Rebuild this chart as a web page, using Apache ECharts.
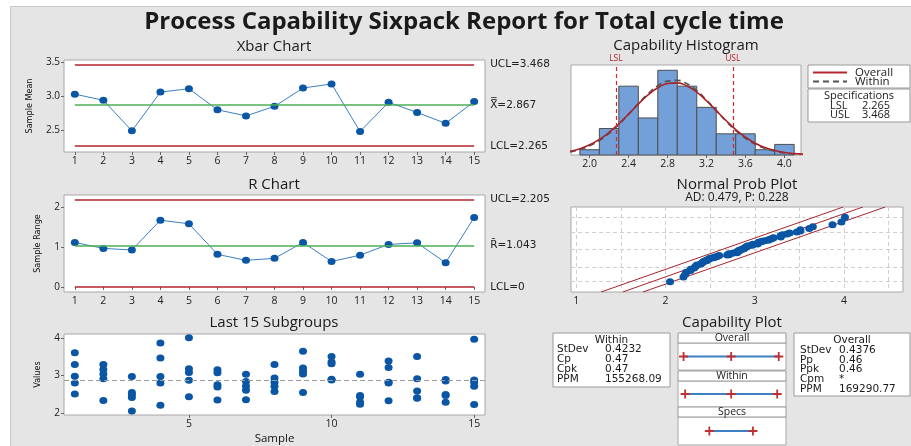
<!DOCTYPE html>
<html>
<head>
<meta charset="utf-8">
<script src="https://cdn.jsdelivr.net/npm/echarts@6/dist/echarts.min.js"></script>
<style>
  html, body { margin: 0; padding: 0; background: #fff; }
  #chart { width: 911px; height: 446px; }
</style>
</head>
<body>
<div id="chart"></div>
<script>
// --- data ---
const samples = [1, 2, 3, 4, 5, 6, 7, 8, 9, 10, 11, 12, 13, 14, 15];
const xbarValues = [3.03, 2.94, 2.49, 3.06, 3.11, 2.80, 2.71, 2.85, 3.12, 3.18, 2.48, 2.91, 2.76, 2.60, 2.92];
const xbarLimits = [3.468, 2.867, 2.265];
const rangeValues = [1.12, 0.97, 0.93, 1.68, 1.59, 0.82, 0.67, 0.72, 1.12, 0.64, 0.80, 1.07, 1.11, 0.61, 1.75];
const rangeLimits = [2.205, 1.043, 0];
const subgroupValues = [
  [3.61, 3.29, 2.98, 2.80, 2.50],
  [3.29, 3.16, 3.04, 2.91, 2.33],
  [2.97, 2.54, 2.48, 2.41, 2.05],
  [3.87, 3.47, 2.97, 2.80, 2.20],
  [4.01, 3.18, 3.08, 2.87, 2.43],
  [3.15, 3.07, 2.75, 2.69, 2.34],
  [3.03, 2.84, 2.71, 2.60, 2.35],
  [3.29, 2.93, 2.82, 2.71, 2.57],
  [3.65, 3.20, 3.11, 3.04, 2.54],
  [3.51, 3.36, 3.31, 2.90, 2.88],
  [3.03, 2.46, 2.42, 2.28, 2.23],
  [3.39, 3.21, 2.82, 2.80, 2.32],
  [3.51, 2.91, 2.58, 2.40, 2.39],
  [2.89, 2.85, 2.49, 2.46, 2.28],
  [3.97, 2.88, 2.82, 2.71, 2.22]
];
const histCenters = [2.0, 2.2, 2.4, 2.6, 2.8, 3.0, 3.2, 3.4, 3.6, 3.8, 4.0];
const histCounts = [1, 5, 13, 7, 16, 13, 9, 4, 4, 1, 2];
const histTicks = [2.0, 2.4, 2.8, 3.2, 3.6, 4.0];
const curveX = [1.8, 1.9, 2.0, 2.1, 2.2, 2.3, 2.4, 2.5, 2.6, 2.7, 2.8, 2.9, 3.0, 3.1, 3.2, 3.3, 3.4, 3.5, 3.6, 3.7, 3.8, 3.9, 4.0, 4.1, 4.2];
const overallCurve = [0.70, 1.19, 1.92, 2.94, 4.28, 5.90, 7.73, 9.62, 11.35, 12.71, 13.51, 13.63, 13.05, 11.87, 10.24, 8.38, 6.51, 4.80, 3.36, 2.23, 1.41, 0.84, 0.48, 0.26, 0.13];
const withinCurve = [0.59, 1.04, 1.73, 2.74, 4.08, 5.76, 7.69, 9.71, 11.59, 13.08, 13.96, 14.10, 13.46, 12.15, 10.37, 8.38, 6.40, 4.62, 3.15, 2.04, 1.24, 0.72, 0.39, 0.20, 0.10];
const specLimits = [2.265, 3.468];
const probLineZ = [-3.1, 3.1];
const probLowerX = [1.276, 3.99];
const probFitX = [1.52, 4.21];
const probUpperX = [1.746, 4.46];
const probGridX = [1, 1.5, 2, 2.5, 3, 3.5, 4, 4.5];
const probGridZ = [-2.326, -1.2816, 0, 1.2816, 2.326];
const capOverall = [1.554, 2.867, 4.180];
const capWithin = [1.597, 2.867, 4.137];
const capSpecs = [2.265, 3.468];
const withinStats = [['StDev', '0.4232'], ['Cp', '0.47'], ['Cpk', '0.47'], ['PPM', '155268.09']];
const overallStats = [['StDev', '0.4376'], ['Pp', '0.46'], ['Ppk', '0.46'], ['Cpm', '*'], ['PPM', '169290.77']];

const font = "'Open Sans', sans-serif";
const boxFont = "'DejaVu Sans', sans-serif";
const dotBlue = '#0b56a4';
const lineBlue = '#3c7fc2';
const red = '#b3262d';
const green = '#4cae55';

// normal scores for the probability plot
function invNorm(p) {
  const a = [-3.969683028665376e+01, 2.209460984245205e+02, -2.759285104469687e+02, 1.383577518672690e+02, -3.066479806614716e+01, 2.506628277459239e+00];
  const b = [-5.447609879822406e+01, 1.615858368580409e+02, -1.556989798598866e+02, 6.680131188771972e+01, -1.328068155288572e+01];
  const c = [-7.784894002430293e-03, -3.223964580411365e-01, -2.400758277161838e+00, -2.549732539343734e+00, 4.374664141464968e+00, 2.938163982698783e+00];
  const d = [7.784695709041462e-03, 3.224671290700398e-01, 2.445134137142996e+00, 3.754408661907416e+00];
  const pl = 0.02425;
  if (p < pl) {
    const q = Math.sqrt(-2 * Math.log(p));
    return (((((c[0] * q + c[1]) * q + c[2]) * q + c[3]) * q + c[4]) * q + c[5]) / ((((d[0] * q + d[1]) * q + d[2]) * q + d[3]) * q + 1);
  }
  if (p > 1 - pl) {
    const q = Math.sqrt(-2 * Math.log(1 - p));
    return -(((((c[0] * q + c[1]) * q + c[2]) * q + c[3]) * q + c[4]) * q + c[5]) / ((((d[0] * q + d[1]) * q + d[2]) * q + d[3]) * q + 1);
  }
  const q = p - 0.5, r = q * q;
  return (((((a[0] * r + a[1]) * r + a[2]) * r + a[3]) * r + a[4]) * r + a[5]) * q / (((((b[0] * r + b[1]) * r + b[2]) * r + b[3]) * r + b[4]) * r + 1);
}

const allValues = subgroupValues.flat().slice().sort((a, b) => a - b);
const probPoints = allValues.map((v, i) => [v, invNorm((i + 1 - 0.3) / (allValues.length + 0.4))]);
const subgroupPoints = [];
subgroupValues.forEach((g, i) => g.forEach(v => subgroupPoints.push([samples[i], v])));

// --- layout helpers ---
const gridBase = { show: true, backgroundColor: '#fff', borderColor: '#a8a8a8', borderWidth: 1, containLabel: false };

function xAxisOf(gridIndex, min, max, labels, extra) {
  return Object.assign({
    type: 'value', gridIndex, min, max,
    axisLine: { show: false },
    axisTick: { show: true, customValues: labels, length: 3, lineStyle: { color: '#666' } },
    axisLabel: { customValues: labels, fontSize: 10.5, color: '#222', margin: 4, fontFamily: font },
    splitLine: { show: false }
  }, extra || {});
}
function yAxisOf(gridIndex, min, max, labels, digits, extra) {
  return Object.assign({
    type: 'value', gridIndex, min, max,
    axisLine: { show: false },
    axisTick: { show: true, customValues: labels, length: 3, lineStyle: { color: '#666' } },
    axisLabel: { customValues: labels, fontSize: 10, color: '#222', margin: 4, fontFamily: font,
      formatter: v => Number(v).toFixed(digits) },
    splitLine: { show: false }
  }, extra || {});
}
const hidden = { axisLine: { show: false }, axisTick: { show: false }, axisLabel: { show: false }, splitLine: { show: false } };
const yName = (name, gap) => ({ name, nameLocation: 'middle', nameGap: gap,
  nameTextStyle: { fontSize: 9, color: '#111', fontFamily: "'DejaVu Sans Condensed', sans-serif" } });

function limitLines(limits, names, colors) {
  return {
    silent: true, symbol: 'none', animation: false,
    label: { position: 'end', distance: 16, fontSize: 10.5, color: '#222', fontFamily: boxFont },
    data: limits.map((v, i) => [
      { coord: [samples[0], v], lineStyle: { color: colors[i], width: 1.6, type: 'solid' },
        label: { formatter: names[i] + '=' + v } },
      { coord: [samples[samples.length - 1], v] }
    ])
  };
}

const plusSymbol = 'path://M4,0H6V4H10V6H6V10H4V6H0V4H4Z';
function capSeries(idx, values) {
  return {
    type: 'line', xAxisIndex: idx, yAxisIndex: idx, data: values.map(v => [v, 0]),
    symbol: plusSymbol, symbolSize: 9, itemStyle: { color: '#c0302f' },
    lineStyle: { color: lineBlue, width: 2 }, silent: true, z: 3
  };
}

function text(x, y, str, size, align, family, weight) {
  return {
    type: 'text', x, y, silent: true,
    style: { text: str, fontSize: size, fontFamily: family || font, fontWeight: weight || 'normal', fill: '#1a1a1a',
      align: align || 'left', verticalAlign: 'middle', textAlign: align || 'left', textVerticalAlign: 'middle' }
  };
}
function box(x, y, w, h) {
  return { type: 'rect', shape: { x, y, width: w, height: h }, silent: true,
    style: { fill: '#fff', stroke: '#9a9a9a', lineWidth: 1 } };
}
function statsBox(x, y, w, h, title, rows, labelX, valueX, firstRowY) {
  const els = [box(x, y, w, h), text(x + w / 2, y + 7, title, 10.5, 'center', boxFont)];
  rows.forEach((r, i) => {
    els.push(text(labelX, firstRowY + i * 9.8, r[0], 10.5, 'left', boxFont));
    els.push(text(valueX, firstRowY + i * 9.8, r[1], 10.5, 'left', boxFont));
  });
  return els;
}

const graphics = [
  { type: 'rect', shape: { x: 0, y: 0, width: 911, height: 6 }, style: { fill: '#fff' }, silent: true },
  { type: 'rect', shape: { x: 0, y: 0, width: 10, height: 446 }, style: { fill: '#fff' }, silent: true },
  { type: 'polyline', shape: { points: [[10.5, 446], [10.5, 6.5], [911, 6.5]] }, style: { stroke: '#c8c8c8', fill: null, lineWidth: 1 }, silent: true },
  text(464, 22, 'Process Capability Sixpack Report for Total cycle time', 24, 'center', font, 'bold'),
  text(274, 47, 'Xbar Chart', 15, 'center'),
  text(274, 185, 'R Chart', 15, 'center'),
  text(274, 323, 'Last 15 Subgroups', 15, 'center'),
  text(686, 46, 'Capability Histogram', 15, 'center'),
  text(737, 185, 'Normal Prob Plot', 15, 'center'),
  text(737, 198, 'AD: 0.479, P: 0.228', 12, 'center'),
  text(732, 323, 'Capability Plot', 15, 'center'),
  // histogram legend
  box(808, 65, 102, 23),
  { type: 'line', shape: { x1: 813, y1: 72.5, x2: 847, y2: 72.5 }, style: { stroke: red, lineWidth: 2 }, silent: true },
  { type: 'line', shape: { x1: 813, y1: 81.5, x2: 847, y2: 81.5 }, style: { stroke: '#555', lineWidth: 2, lineDash: [6, 4] }, silent: true },
  text(855, 72.5, 'Overall', 11.5),
  text(855, 81.5, 'Within', 11.5),
  box(808, 89, 102, 33),
  text(859, 96, 'Specifications', 11, 'center'),
  text(830, 105.5, 'LSL', 11),
  text(862, 105.5, String(specLimits[0]), 11),
  text(830, 115, 'USL', 11),
  text(862, 115, String(specLimits[1]), 11),
  // capability plot headers
  box(678, 333, 108, 10), text(732, 338, 'Overall', 10.5, 'center'),
  box(678, 371, 108, 10), text(732, 376, 'Within', 10.5, 'center'),
  box(678, 407, 108, 10), text(732, 412, 'Specs', 10.5, 'center')
].concat(
  statsBox(553, 333, 117, 54, 'Within', withinStats, 557, 605, 349.5),
  statsBox(794, 333, 116, 63, 'Overall', overallStats, 800, 839, 350)
);

const option = {
  backgroundColor: '#e5e5e5',
  animation: false,
  textStyle: { fontFamily: font },
  grid: [
    Object.assign({ left: 64, top: 60, width: 421, height: 92 }, gridBase),
    Object.assign({ left: 64, top: 195, width: 421, height: 97 }, gridBase),
    Object.assign({ left: 64, top: 334, width: 421, height: 82 }, gridBase),
    Object.assign({ left: 571, top: 65, width: 230, height: 90 }, gridBase),
    Object.assign({ left: 571, top: 207, width: 332, height: 85 }, gridBase),
    Object.assign({ left: 678, top: 343, width: 108, height: 27 }, gridBase),
    Object.assign({ left: 678, top: 381, width: 108, height: 26 }, gridBase),
    Object.assign({ left: 678, top: 417, width: 108, height: 28 }, gridBase)
  ],
  xAxis: [
    xAxisOf(0, 0.62, 15.38, samples),
    xAxisOf(1, 0.62, 15.38, samples),
    xAxisOf(2, 0.62, 15.38, [5, 10, 15], { name: 'Sample', nameLocation: 'middle', nameGap: 18,
      nameTextStyle: { fontSize: 11.5, color: '#111', fontFamily: font } }),
    xAxisOf(3, 1.809, 4.17, histTicks, { axisLabel: { customValues: histTicks, fontSize: 10.5, color: '#222', margin: 4,
      fontFamily: font, formatter: v => Number(v).toFixed(1) } }),
    xAxisOf(4, 0.94, 4.66, probGridX, {
      axisTick: { show: false, customValues: probGridX },
      axisLabel: { customValues: [1, 2, 3, 4], fontSize: 10.5, color: '#222', margin: 4, fontFamily: font },
      splitLine: { show: true, lineStyle: { color: '#cfcfcf', type: [4, 3] } } }),
    Object.assign({ type: 'value', gridIndex: 5, min: 1.4, max: 4.38 }, hidden),
    Object.assign({ type: 'value', gridIndex: 6, min: 1.4, max: 4.38 }, hidden),
    Object.assign({ type: 'value', gridIndex: 7, min: 1.4, max: 4.38 }, hidden)
  ],
  yAxis: [
    yAxisOf(0, 2.178, 3.533, [2.5, 3.0, 3.5], 1, yName('Sample Mean', 30)),
    yAxisOf(1, -0.128, 2.315, [0, 1, 2], 0, yName('Sample Range', 22)),
    yAxisOf(2, 1.94, 4.11, [2, 3, 4], 0, yName('Values', 22)),
    Object.assign({ type: 'value', gridIndex: 3, min: 0, max: 17 }, hidden),
    Object.assign({ type: 'value', gridIndex: 4, min: -3.1, max: 3.1 }, hidden, {
      axisTick: { show: false, customValues: probGridZ },
      splitLine: { show: true, lineStyle: { color: '#cfcfcf', type: [4, 3] } } }),
    Object.assign({ type: 'value', gridIndex: 5, min: -1, max: 1 }, hidden),
    Object.assign({ type: 'value', gridIndex: 6, min: -1, max: 1 }, hidden),
    Object.assign({ type: 'value', gridIndex: 7, min: -1, max: 1 }, hidden)
  ],
  graphic: graphics,
  series: [
    {
      type: 'line', xAxisIndex: 0, yAxisIndex: 0, z: 3,
      data: samples.map((s, i) => [s, xbarValues[i]]),
      symbol: 'circle', symbolSize: [8, 7], itemStyle: { color: dotBlue },
      lineStyle: { color: lineBlue, width: 1 },
      markLine: limitLines(xbarLimits, ['UCL', 'X\u033F', 'LCL'], [red, green, red])
    },
    {
      type: 'line', xAxisIndex: 1, yAxisIndex: 1, z: 3,
      data: samples.map((s, i) => [s, rangeValues[i]]),
      symbol: 'circle', symbolSize: [8, 7], itemStyle: { color: dotBlue },
      lineStyle: { color: lineBlue, width: 1 },
      markLine: limitLines(rangeLimits, ['UCL', 'R\u0304', 'LCL'], [red, green, red])
    },
    {
      type: 'scatter', xAxisIndex: 2, yAxisIndex: 2, z: 3,
      data: subgroupPoints, symbolSize: [8, 7], itemStyle: { color: dotBlue, opacity: 1 },
      markLine: { silent: true, symbol: 'none', label: { show: false },
        lineStyle: { color: '#9a9a9a', type: [5, 3], width: 1 },
        data: [{ yAxis: xbarLimits[1] }] }
    },
    {
      type: 'custom', xAxisIndex: 3, yAxisIndex: 3, z: 2,
      data: histCenters.map((c, i) => [c - 0.1, c + 0.1, histCounts[i]]),
      encode: { x: [0, 1], y: 2 },
      renderItem: (params, api) => {
        const p0 = api.coord([api.value(0), api.value(2)]);
        const p1 = api.coord([api.value(1), 0]);
        return { type: 'rect', shape: { x: p0[0], y: p0[1], width: p1[0] - p0[0], height: p1[1] - p0[1] },
          style: { fill: '#73a0d8', stroke: '#4f4f4f', lineWidth: 1 } };
      },
      markLine: {
        silent: true, symbol: 'none',
        lineStyle: { color: '#d8262b', type: [4, 3], width: 1.2 },
        label: { position: 'end', distance: 2, fontSize: 8.5, color: '#b3262d', fontFamily: font },
        data: [
          { xAxis: specLimits[0], label: { formatter: 'LSL' } },
          { xAxis: specLimits[1], label: { formatter: 'USL' } }
        ]
      }
    },
    {
      type: 'line', xAxisIndex: 3, yAxisIndex: 3, z: 3, smooth: true, showSymbol: false, silent: true,
      data: curveX.map((x, i) => [x, withinCurve[i]]),
      lineStyle: { color: '#555', width: 1.6, type: [6, 4] }
    },
    {
      type: 'line', xAxisIndex: 3, yAxisIndex: 3, z: 4, smooth: true, showSymbol: false, silent: true,
      data: curveX.map((x, i) => [x, overallCurve[i]]),
      lineStyle: { color: '#a8232a', width: 1.6 }
    },
    ...[probLowerX, probFitX, probUpperX].map(xs => ({
      type: 'line', xAxisIndex: 4, yAxisIndex: 4, z: 3, showSymbol: false, silent: true,
      data: xs.map((x, i) => [x, probLineZ[i]]),
      lineStyle: { color: '#a8232a', width: 1 }
    })),
    {
      type: 'scatter', xAxisIndex: 4, yAxisIndex: 4, z: 4,
      data: probPoints, symbolSize: [8, 7], itemStyle: { color: dotBlue, opacity: 1 }
    },
    capSeries(5, capOverall),
    capSeries(6, capWithin),
    capSeries(7, capSpecs)
  ]
};

echarts.init(document.getElementById('chart')).setOption(option);
</script>
</body>
</html>
